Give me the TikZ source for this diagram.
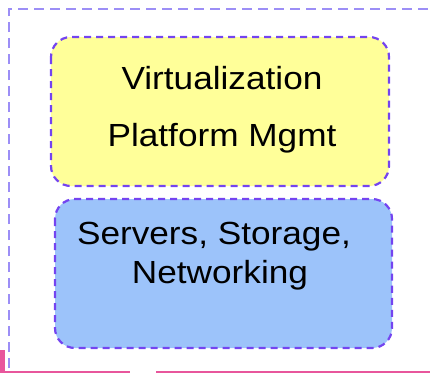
\documentclass[tikz,border=0pt]{standalone}
\usepackage{fontspec}
\setmainfont{Liberation Sans}[FakeStretch=1.1]
\definecolor{frameC}{HTML}{9C8EF6}
\definecolor{boxline}{HTML}{7444F0}
\definecolor{yellowF}{HTML}{FFFF99}
\definecolor{blueF}{HTML}{9CC3FA}
\definecolor{pinkC}{HTML}{E8569C}
\tikzset{
  layerbox/.style={draw=boxline, line width=2.2pt, dash pattern=on 7pt off 5pt, rounded corners=20pt},
  outerframe/.style={draw=frameC, line width=2.2pt, dash pattern=on 10pt off 6pt},
  boxtext/.style={font=\fontsize{32}{39}\selectfont, align=center, text=black}
}
\begin{document}
\begin{tikzpicture}[x=1pt,y=-1pt]
\useasboundingbox (0,0) rectangle (430,373);
% outer dashed frame
\coordinate (fbl) at (9,368);
\coordinate (ftl) at (9,9);
\coordinate (ftr) at (430,9);
\draw[outerframe] (fbl) -- (ftl) -- (ftr);
% pink bottom line
\coordinate (p0) at (0,372);
\coordinate (p1) at (130,372);
\coordinate (p2) at (156,372);
\coordinate (p3) at (430,372);
\draw[pinkC, line width=2.4pt] (p0) -- (p1) (p2) -- (p3);
\fill[pinkC] (0,350) rectangle (5,373);
% boxes
\draw[layerbox, fill=yellowF] (51,37) rectangle (389,186);
\draw[layerbox, fill=blueF] (55,199) rectangle (392,348);
\node[boxtext, anchor=base] (virt) at (222,89) {Virtualization};
\node[boxtext, anchor=base] (plat) at (222,146) {Platform Mgmt};
\node[boxtext, anchor=base] (serv) at (214,244) {Servers, Storage,};
\node[boxtext, anchor=base] (netw) at (220,283) {Networking};
\end{tikzpicture}
\end{document}
